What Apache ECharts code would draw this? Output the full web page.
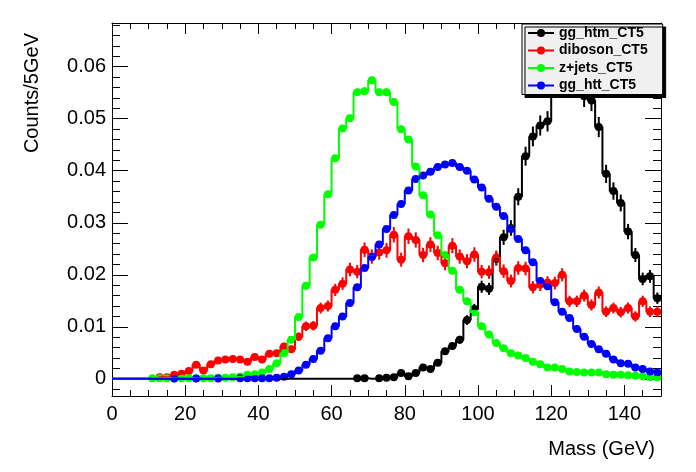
<!DOCTYPE html>
<html>
<head>
<meta charset="utf-8">
<script src="https://cdn.jsdelivr.net/npm/echarts@6/dist/echarts.min.js"></script>
<style>
  html, body { margin: 0; padding: 0; background: #fff; }
  #chart { width: 696px; height: 472px; }
</style>
</head>
<body>
<div id="chart"></div>
<script>
// binning: 75 bins of 2 GeV from 0 to 150
const binWidth = 2;
const binCenters = Array.from({ length: 75 }, (_, i) => binWidth / 2 + i * binWidth);

const histNames = ['gg_htm_CT5', 'diboson_CT5', 'z+jets_CT5', 'gg_htt_CT5'];
const histColors = ['#000000', '#ff0000', '#00ff00', '#0000ff'];

// bin contents, bin centres 1, 3, 5 ... 149
const ggHtm = [
  0, 0, 0, 0, 0, 0, 0, 0, 0, 0,
  0, 0, 0, 0, 0, 0, 0, 0, 0, 0,
  0, 0, 0, 0, 0, 0, 0, 0, 0, 0,
  0, 0, 0,
  0.0001, 0.0001, 0, 0.0001, 0.0002, 0.0003, 0.0011, 0.0005, 0.0011, 0.0022,
  0.0019, 0.0031, 0.0053, 0.0063, 0.0075, 0.0113, 0.0134, 0.0177, 0.0173, 0.0231,
  0.0272, 0.0290, 0.0350, 0.0428, 0.0466, 0.0487, 0.0495, 0.0570, 0.0610, 0.0620,
  0.0590, 0.0543, 0.0535, 0.0484, 0.0394, 0.0361, 0.0338, 0.0283, 0.0238, 0.0192,
  0.0197, 0.0155
];
const diboson = [
  0, 0, 0, 0, 0, 0,
  0.0003, 0.0003, 0.0008, 0.0010, 0.0015, 0.0027, 0.0016, 0.0028, 0.0035, 0.0037,
  0.0038, 0.0037, 0.0033, 0.0042, 0.0037, 0.0048, 0.0049, 0.0062, 0.0057, 0.0081,
  0.0101, 0.0102, 0.0136, 0.0140, 0.0171, 0.0183, 0.0210, 0.0206, 0.0248, 0.0235,
  0.0243, 0.0247, 0.0277, 0.0229, 0.0274, 0.0267, 0.0238, 0.0258, 0.0242, 0.0222,
  0.0256, 0.0235, 0.0226, 0.0239, 0.0206, 0.0205, 0.0233, 0.0207, 0.0188, 0.0213,
  0.0212, 0.0176, 0.0181, 0.0185, 0.0184, 0.0200, 0.0149, 0.0149, 0.0160, 0.0142,
  0.0166, 0.0129, 0.0136, 0.0128, 0.0136, 0.0120, 0.0149, 0.0129, 0.0129
];
const zJets = [
  0, 0, 0, 0, 0,
  0.0001, 0.0001, 0.0001, 0.0001, 0.0001, 0.0001, 0.0001, 0.0001, 0.0001, 0.0002,
  0.0002, 0.0003, 0.0004, 0.0008, 0.0009, 0.0012, 0.0019, 0.0030, 0.0049, 0.0075,
  0.0119, 0.0179, 0.0233, 0.0296, 0.0355, 0.0424, 0.0481, 0.0501, 0.0551, 0.0553,
  0.0574, 0.0551, 0.0551, 0.0532, 0.0480, 0.0460, 0.0408, 0.0353, 0.0316, 0.0276,
  0.0238, 0.0208, 0.0171, 0.0149, 0.0128, 0.0101, 0.0085, 0.0069, 0.0059, 0.0049,
  0.0045, 0.0040, 0.0033, 0.0028, 0.0022, 0.0022, 0.0019, 0.0014, 0.0013, 0.0012,
  0.0012, 0.0012, 0.0009, 0.0008, 0.0008, 0.0007, 0.0006, 0.0005, 0.0003, 0.0003
];
const ggHtt = [
  0, 0, 0, 0, 0, 0, 0, 0,
  0.00005, 0, 0, 0.00005, 0, 0, 0.00005, 0, 0,
  0.0001, 0.0001, 0.0001, 0.0001, 0.0001, 0.0002, 0.0004, 0.0009, 0.0016, 0.0027,
  0.0038, 0.0054, 0.0078, 0.0101, 0.0120, 0.0146, 0.0176, 0.0213, 0.0234, 0.0258,
  0.0288, 0.0315, 0.0336, 0.0362, 0.0384, 0.0391, 0.0398, 0.0407, 0.0412, 0.0415,
  0.0407, 0.0400, 0.0383, 0.0368, 0.0346, 0.0331, 0.0313, 0.0288, 0.0269, 0.0247,
  0.0224, 0.0188, 0.0178, 0.0147, 0.0129, 0.0117, 0.0096, 0.0081, 0.0067, 0.0057,
  0.0048, 0.0037, 0.0030, 0.0029, 0.0022, 0.0019, 0.0014, 0.0012
];
const histValues = [ggHtm, diboson, zJets, ggHtt];
// error bar size ~ errScale * sqrt(content)
const errScale = [0.0088, 0.009, 0.003, 0.003];

const FONT = '"Liberation Sans", Arial, Helvetica, sans-serif';

function stepData(vals) {
  const pts = binCenters.map((c, i) => [c, vals[i]]);
  pts.unshift([binCenters[0] - binWidth / 2, vals[0]]);
  pts.push([binCenters[binCenters.length - 1] + binWidth / 2, vals[vals.length - 1]]);
  return pts;
}

const series = [];
histValues.forEach((vals, k) => {
  const color = histColors[k];
  series.push({
    name: histNames[k],
    type: 'line',
    step: 'middle',
    data: stepData(vals),
    symbol: 'circle',
    showSymbol: false,
    color: color,
    lineStyle: { color: color, width: 2 },
    itemStyle: { color: color },
    silent: true
  });
  series.push({
    name: histNames[k] + ' err',
    type: 'custom',
    data: binCenters
      .map((c, i) => [c, vals[i] - errScale[k] * Math.sqrt(vals[i]), vals[i] + errScale[k] * Math.sqrt(vals[i])])
      .filter((d, i) => vals[i] > 0),
    encode: { x: 0, y: [1, 2] },
    renderItem: (params, api) => {
      const p1 = api.coord([api.value(0), api.value(1)]);
      const p2 = api.coord([api.value(0), api.value(2)]);
      return {
        type: 'line',
        shape: { x1: p1[0], y1: p1[1], x2: p2[0], y2: p2[1] },
        style: { stroke: color, lineWidth: 2 }
      };
    },
    clip: true,
    silent: true
  });
  series.push({
    name: histNames[k] + ' pts',
    type: 'scatter',
    data: binCenters.map((c, i) => [c, vals[i]]).filter((d, i) => vals[i] > 0),
    symbol: 'circle',
    symbolSize: 8,
    itemStyle: { color: color, opacity: 1 },
    silent: true
  });
});

const tickStyle = { color: '#000', width: 1 };
const xBase = { type: 'value', min: 0, max: 150, splitLine: { show: false } };
const yBase = { type: 'value', min: -0.0033, max: 0.0684, splitLine: { show: false } };

const chart = echarts.init(document.getElementById('chart'));
chart.setOption({
  animation: false,
  backgroundColor: '#fff',
  grid: { left: 112, right: 35, top: 23, bottom: 76 },
  xAxis: [
    {
      ...xBase, position: 'bottom', interval: 20,
      axisLine: { show: true, onZero: false, lineStyle: tickStyle },
      axisTick: { inside: true, length: 11, lineStyle: tickStyle },
      axisLabel: { fontFamily: FONT, fontSize: 20, color: '#000', margin: 8, showMaxLabel: false }
    },
    {
      ...xBase, position: 'bottom', interval: 5,
      axisLine: { show: false, onZero: false },
      axisTick: { inside: true, length: 6, lineStyle: tickStyle },
      axisLabel: { show: false }
    },
    {
      ...xBase, position: 'top', interval: 20,
      axisLine: { show: true, onZero: false, lineStyle: tickStyle },
      axisTick: { inside: true, length: 11, lineStyle: tickStyle },
      axisLabel: { show: false }
    },
    {
      ...xBase, position: 'top', interval: 5,
      axisLine: { show: false, onZero: false },
      axisTick: { inside: true, length: 6, lineStyle: tickStyle },
      axisLabel: { show: false }
    }
  ],
  yAxis: [
    {
      ...yBase, position: 'left', splitNumber: 7,
      axisLine: { show: true, onZero: false, lineStyle: tickStyle },
      axisTick: { inside: true, length: 16, lineStyle: tickStyle },
      axisLabel: { fontFamily: FONT, fontSize: 20, color: '#000', margin: 6, showMinLabel: false, showMaxLabel: false }
    },
    {
      ...yBase, position: 'left', splitNumber: 36,
      axisLine: { show: false, onZero: false },
      axisTick: { inside: true, length: 8, lineStyle: tickStyle },
      axisLabel: { show: false }
    },
    {
      ...yBase, position: 'right', splitNumber: 7,
      axisLine: { show: true, onZero: false, lineStyle: tickStyle },
      axisTick: { inside: true, length: 16, lineStyle: tickStyle },
      axisLabel: { show: false }
    },
    {
      ...yBase, position: 'right', splitNumber: 36,
      axisLine: { show: false, onZero: false },
      axisTick: { inside: true, length: 8, lineStyle: tickStyle },
      axisLabel: { show: false }
    }
  ],
  legend: {
    data: histNames,
    orient: 'vertical',
    left: 522,
    top: 24,
    itemWidth: 26,
    itemHeight: 10,
    itemGap: 3.5,
    padding: [2, 15, 2, 5],
    backgroundColor: '#f0f0f0',
    borderColor: '#000',
    borderWidth: 1,
    shadowColor: '#000',
    shadowBlur: 0,
    shadowOffsetX: 3,
    shadowOffsetY: 3,
    selectedMode: false,
    textStyle: { fontFamily: FONT, fontSize: 14, fontWeight: 'bold', color: '#000', lineHeight: 14 }
  },
  graphic: [
    {
      type: 'text', x: 32, y: 33, rotation: Math.PI / 2,
      style: { text: 'Counts/5GeV', font: '20px ' + FONT, fill: '#000', align: 'right', verticalAlign: 'middle' }
    },
    {
      type: 'text', x: 655, y: 449,
      style: { text: 'Mass (GeV)', font: '20px ' + FONT, fill: '#000', align: 'right', verticalAlign: 'middle' }
    }
  ],
  series: series
});
</script>
</body>
</html>
